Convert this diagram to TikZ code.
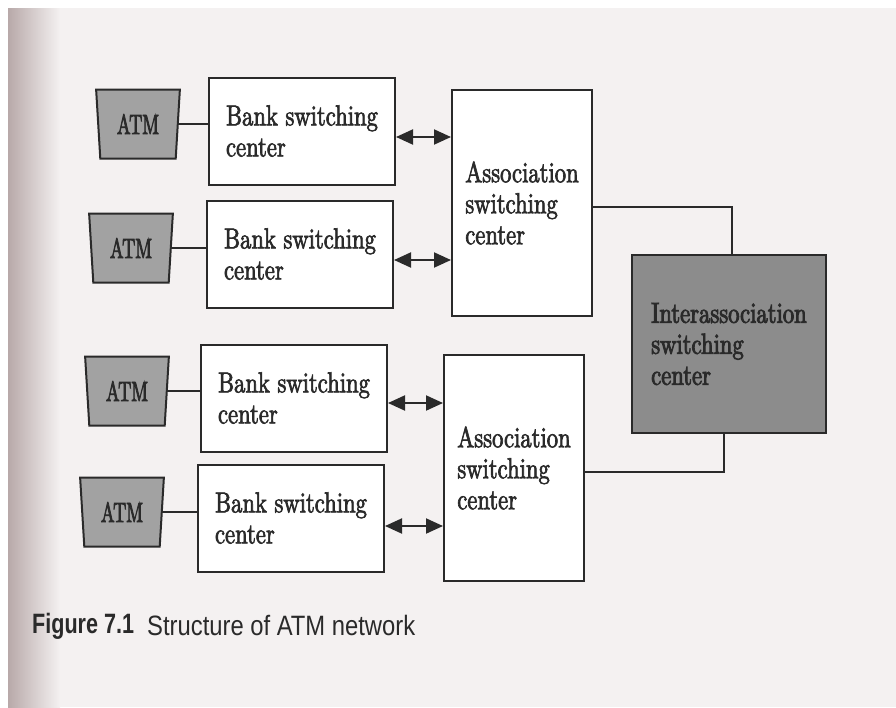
\documentclass[tikz,border=0pt]{standalone}
\usepackage{fontspec}
\usetikzlibrary{arrows.meta,shapes.geometric,calc}
\newfontfamily\diagfont{lmroman10-regular.otf}[FakeStretch=0.78,FakeBold=2.2]
\newfontfamily\interfont{lmroman10-regular.otf}[FakeStretch=0.78,FakeBold=3]
\newfontfamily\atmfont{lmroman10-regular.otf}[FakeStretch=0.65,FakeBold=2.6]
\newfontfamily\capfont{Liberation Sans}[FakeStretch=0.85]
\newfontfamily\capbf{Liberation Sans}[FakeStretch=0.77]
\definecolor{ink}{HTML}{2A2A2A}
\definecolor{paper}{HTML}{F4F1F1}
\definecolor{shadow}{HTML}{B8A9A9}
\definecolor{atmgray}{HTML}{A2A2A2}
\definecolor{intergray}{HTML}{8C8C8C}
\begin{document}
\begin{tikzpicture}[x=1pt,y=-1pt,
  box/.style={draw=ink, line width=2pt, fill=white, align=left, inner sep=0pt,
    font=\diagfont\fontsize{29}{31}\selectfont, text=ink},
  bank/.style={box, minimum width=186pt, minimum height=107pt},
  assoc/.style={box, minimum width=140pt, minimum height=226pt},
  inter/.style={box, fill=intergray, minimum width=194pt, minimum height=178pt,
    font=\interfont\fontsize{29}{31}\selectfont},
  atm/.style={trapezium, trapezium stretches=true, shape border rotate=180,
    trapezium angle=83.4, minimum width=84pt, minimum height=69pt, inner sep=0pt,
    draw=ink, fill=atmgray, line width=2pt, text=ink,
    font=\atmfont\fontsize{28}{30}\selectfont},
  conn/.style={draw=ink, line width=2pt},
  dbl/.style={conn, {Triangle[length=17pt,width=15pt]}-{Triangle[length=17pt,width=15pt]}},
  caption/.style={anchor=base west, inner sep=0pt, text=ink}
  ]
% page background
\fill[white] (0,0) rectangle (896,707);
\fill[paper] (8,8) rectangle (896,707);
\shade[left color=shadow, right color=paper] (8,8) rectangle (60,707);
\useasboundingbox (0,0) rectangle (896,707);

% ATMs
\node[atm] (atm1) at (138,124) {ATM};
\node[atm] (atm2) at (131,248) {ATM};
\node[atm] (atm3) at (127,391) {ATM};
\node[atm] (atm4) at (122,512) {ATM};

% bank switching centers
\node[bank] (bank1) at (302,131) {Bank switching\\center};
\node[bank] (bank2) at (300,254) {Bank switching\\center};
\node[bank] (bank3) at (294,398) {Bank switching\\center};
\node[bank] (bank4) at (291,518) {Bank switching\\center};

% association switching centers
\node[assoc] (assoc1) at (522,203) {Association\\switching\\center};
\node[assoc] (assoc2) at (514,468) {Association\\switching\\center};

% interassociation
\node[inter] (inter) at (729,344) {Interassociation\\switching\\center};

% ATM to bank
\foreach \i in {1,2,3,4}{
  \draw[conn] (atm\i.east) -- (atm\i.east -| bank\i.west);
}
% bank to association
\draw[dbl] ([yshift=-6pt]bank1.east) -- ([yshift=-6pt]bank1.east -| assoc1.west);
\draw[dbl] ([yshift=-6pt]bank2.east) -- ([yshift=-6pt]bank2.east -| assoc1.west);
\draw[dbl] ([yshift=-5pt]bank3.east) -- ([yshift=-5pt]bank3.east -| assoc2.west);
\draw[dbl] ([yshift=-8pt]bank4.east) -- ([yshift=-8pt]bank4.east -| assoc2.west);

% association to interassociation
\draw[conn] ([yshift=-4pt]assoc1.east) -| ([xshift=3pt]inter.north);
\draw[conn] ([yshift=-4pt]assoc2.east) -| ([xshift=-5pt]inter.south);

% caption
\node[caption, font=\capbf\bfseries\fontsize{28}{30}\selectfont] (fig) at (32,633) {Figure 7.1};
\node[caption, font=\capfont\fontsize{28}{30}\selectfont] (title) at (147,635) {Structure of ATM network};
\end{tikzpicture}
\end{document}
